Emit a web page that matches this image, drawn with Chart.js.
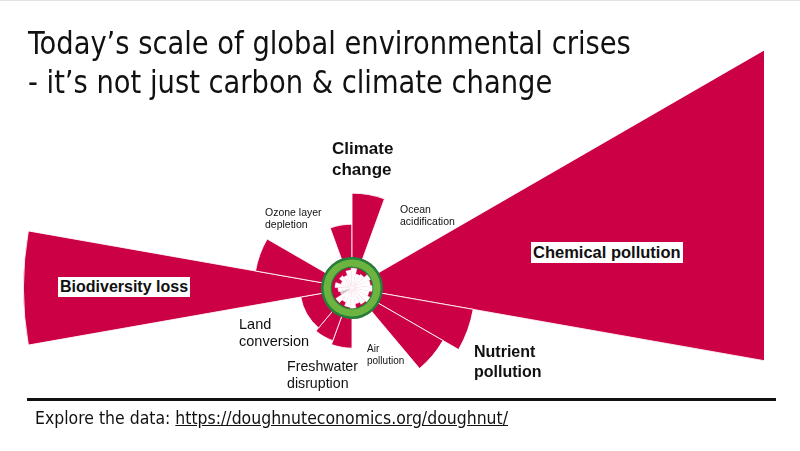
<!DOCTYPE html>
<html>
<head>
<meta charset="utf-8">
<script src="https://cdn.jsdelivr.net/npm/chart.js@4.4.0/dist/chart.umd.min.js"></script>
<style>
  html, body { margin: 0; padding: 0; background: #fff; }
  #wrap { position: relative; width: 800px; height: 451px; overflow: hidden; border-top: 1px solid #e2e2e2; box-sizing: border-box; }
  #wrap canvas { position: absolute; left: 0; top: 0; }
  .t { position: absolute; white-space: nowrap; color: #111; font-family: "DejaVu Sans Condensed", "Liberation Sans", sans-serif; transform-origin: left top; }
  .lbl { position: absolute; white-space: nowrap; color: #111; font-family: "Liberation Sans", Arial, sans-serif; }
  .b { font-weight: bold; }
  .box { background: #fff; padding: 1px 2px; line-height: 1.15; }
  #rule { position: absolute; left: 27px; top: 397px; width: 749px; height: 3px; background: #111; }
</style>
</head>
<body>
<div id="wrap">
  <canvas id="chart" width="800" height="451"></canvas>
  <div class="t" style="left:28px; top:23px; font-size:32px; transform:scaleX(0.95);">Today’s scale of global environmental crises</div>
  <div class="t" style="left:28px; top:62px; font-size:32px; transform:scaleX(0.95);">- it’s not just carbon &amp; climate change</div>

  <div class="lbl b" style="left:332px; top:137px; font-size:17px; line-height:21px;">Climate<br>change</div>
  <div class="lbl" style="left:265px; top:205px; font-size:10.5px; line-height:12px;">Ozone layer<br>depletion</div>
  <div class="lbl" style="left:400px; top:202px; font-size:10.5px; line-height:12px;">Ocean<br>acidification</div>
  <div class="lbl b box" style="left:531px; top:241px; font-size:16.5px;">Chemical pollution</div>
  <div class="lbl b box" style="left:58px; top:276px; font-size:16px;">Biodiversity loss</div>
  <div class="lbl" style="left:239px; top:315px; font-size:14.5px; line-height:17px;">Land<br>conversion</div>
  <div class="lbl" style="left:287px; top:357px; font-size:14.2px; line-height:17px;">Freshwater<br>disruption</div>
  <div class="lbl" style="left:367px; top:342px; font-size:10px; line-height:12px;">Air<br>pollution</div>
  <div class="lbl b" style="left:474px; top:341px; font-size:16px; line-height:20px;">Nutrient<br>pollution</div>

  <div id="rule"></div>
  <div class="t" style="left:35px; top:406px; font-size:18px; transform:scaleX(0.97);">Explore the data: <span style="text-decoration:underline;">https://doughnuteconomics.org/doughnut/</span></div>
</div>
<script>
// Planetary boundaries, clockwise from the top (radius 1 = ecological ceiling)
const boundaryLabels = [
  'Climate change (CO2)', 'Climate change (forcing)', 'Ocean acidification', 'Chemical pollution',
  'Nutrient pollution (N)', 'Nutrient pollution (P)', 'Air pollution',
  'Freshwater disruption (blue)', 'Freshwater disruption (green)', 'Land conversion',
  'Biodiversity loss (genetic)', 'Biodiversity loss (functional)', 'Ozone layer depletion'
];
const boundarySpan = [20, 20, 40, 40, 20, 20, 40, 20, 20, 40, 20, 20, 40];
const boundaryValues = [2.06, 3.06, 1.0, 20, 3.97, 3.39, 1.0, 1.94, 1.81, 1.68, 10.6, 3.16, 1.0];

// Social foundation (radius 0.65 = foundation reached, smaller = shortfall)
const socialValues = [0.58, 0.64, 0.47, 0.52, 0.65, 0.6, 0.65, 0.56, 0.65, 0.6, 0.52, 0.65, 0.62, 0.5, 0.62, 0.4, 0.45, 0.55, 0.38, 0.5, 0.44];
const socialNoData = [15];

// Ring layers: inner shortfall disk, inner line, band, outer line
const ringRadius = { shortfall: 0.65, innerLine: 0.69, band: 0.92, outerLine: 1.0 };

const RED = '#cc0044';
const DARK_GREEN = '#23803a';
const LIGHT_GREEN = '#6cb33f';

function disk(value, color) {
  return { data: [value], backgroundColor: color, borderWidth: 0 };
}

new Chart(document.getElementById('chart'), {
  type: 'polarArea',
  data: {
    labels: boundaryLabels,
    datasets: [
      {
        data: socialValues,
        backgroundColor: ctx => socialNoData.includes(ctx.dataIndex) ? '#c9c9c9' : '#ffffff',
        borderColor: 'rgba(255,255,255,0.8)',
        borderWidth: 0.5
      },
      disk(ringRadius.shortfall, RED),
      disk(ringRadius.innerLine, DARK_GREEN),
      disk(ringRadius.band, LIGHT_GREEN),
      disk(ringRadius.outerLine, DARK_GREEN),
      {
        data: boundaryValues,
        angle: ctx => boundarySpan[ctx.dataIndex],
        backgroundColor: RED,
        borderColor: 'rgba(255,255,255,0.85)',
        borderWidth: 1,
        clip: { left: false, top: false, right: 60, bottom: false }
      }
    ]
  },
  options: {
    responsive: false,
    animation: false,
    events: [],
    layout: { padding: { left: 0, right: 96, top: 123, bottom: 0 } },
    plugins: { legend: { display: false }, tooltip: { enabled: false } },
    scales: {
      r: {
        min: 0,
        max: 5.29,
        startAngle: -20,
        ticks: { display: false },
        grid: { display: false },
        angleLines: { display: false },
        pointLabels: { display: false }
      }
    }
  }
});
</script>
</body>
</html>
